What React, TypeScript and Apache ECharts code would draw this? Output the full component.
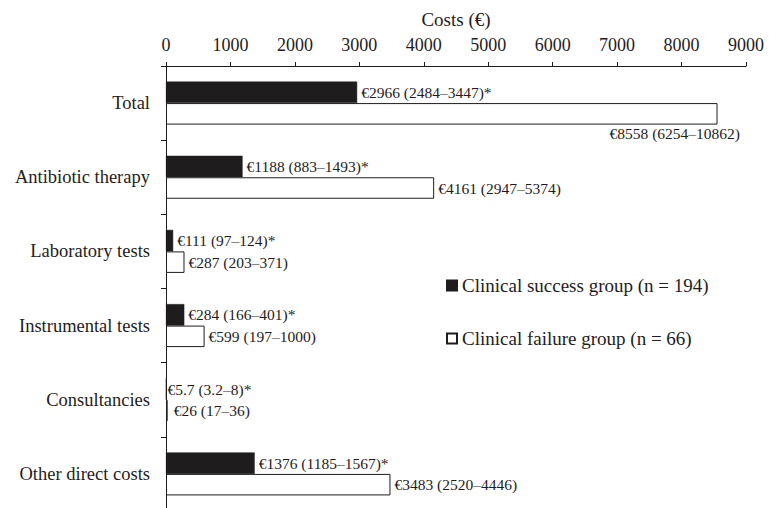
import React, { useEffect, useRef } from "react";
import * as echarts from "echarts";

const categories = [
  "Total",
  "Antibiotic therapy",
  "Laboratory tests",
  "Instrumental tests",
  "Consultancies",
  "Other direct costs",
];
const successValues = [2966, 1188, 111, 284, 5.7, 1376];
const failureValues = [8558, 4161, 287, 599, 26, 3483];
const successLabels = [
  "€2966 (2484–3447)*",
  "€1188 (883–1493)*",
  "€111 (97–124)*",
  "€284 (166–401)*",
  "€5.7 (3.2–8)*",
  "€1376 (1185–1567)*",
];
const failureLabels = [
  "€8558 (6254–10862)",
  "€4161 (2947–5374)",
  "€287 (203–371)",
  "€599 (197–1000)",
  "€26 (17–36)",
  "€3483 (2520–4446)",
];
const successName = "Clinical success group (n = 194)";
const failureName = "Clinical failure group (n = 66)";
const axisTitle = "Costs (€)";

const FONT = "Liberation Serif";
const INK = "#1f1c1d";

export default function App() {
  const ref = useRef<HTMLDivElement>(null);
  useEffect(() => {
    if (!ref.current) return;
    const chart = echarts.init(ref.current, undefined, { renderer: "svg" });
    const labelStyle = {
      show: true,
      position: "right" as const,
      distance: 4,
      color: INK,
      fontFamily: FONT,
      fontSize: 15.5,
    };
    chart.setOption({
      animation: false,
      backgroundColor: "#ffffff",
      textStyle: { fontFamily: FONT, color: INK },
      grid: {
        left: 166,
        right: 23,
        top: 66,
        height: 445,
        containLabel: false,
        outerBoundsMode: "none",
      },
      legend: {
        orient: "vertical",
        left: 446,
        top: 276,
        padding: 0,
        itemGap: 34,
        itemWidth: 10,
        itemHeight: 10,
        icon: "rect",
        textStyle: { fontFamily: FONT, fontSize: 19, color: INK },
        data: [successName, failureName],
      },
      xAxis: {
        type: "value",
        position: "top",
        min: 0,
        max: 9000,
        interval: 1000,
        name: axisTitle,
        nameLocation: "middle",
        nameGap: 37,
        nameTextStyle: { fontFamily: FONT, fontSize: 19, color: INK },
        axisLine: { show: true, lineStyle: { color: INK, width: 1 } },
        axisTick: { show: true, inside: false, length: 4, lineStyle: { color: INK } },
        splitLine: { show: false },
        axisLabel: {
          fontFamily: FONT,
          fontSize: 18,
          color: INK,
          margin: 12,
          formatter: (v: number) => String(v),
        },
      },
      yAxis: {
        type: "category",
        inverse: true,
        data: categories,
        axisLine: { show: true, lineStyle: { color: INK, width: 1 } },
        axisTick: { show: true, inside: false, length: 5, lineStyle: { color: INK } },
        axisLabel: { fontFamily: FONT, fontSize: 18.5, color: INK, margin: 16 },
      },
      series: [
        {
          name: successName,
          type: "bar",
          barWidth: 21.5,
          barGap: "0%",
          itemStyle: { color: INK, borderColor: INK, borderWidth: 0.5 },
          label: {
            ...labelStyle,
            formatter: (p: any) => successLabels[p.dataIndex],
          },
          data: successValues.map((v, i) =>
            i === 4 ? { value: v, label: { distance: 1 } } : v
          ),
        },
        {
          name: failureName,
          type: "bar",
          barWidth: 21.5,
          barGap: "0%",
          itemStyle: { color: "#ffffff", borderColor: INK, borderWidth: 1 },
          label: {
            ...labelStyle,
            formatter: (p: any) => failureLabels[p.dataIndex],
          },
          data: failureValues.map((v, i) =>
            i === 0
              ? {
                  value: v,
                  label: { position: [574, 30], align: "right", verticalAlign: "middle" },
                }
              : i === 4
              ? { value: v, label: { distance: 6 } }
              : v
          ),
        },
      ],
    });
    return () => chart.dispose();
  }, []);
  return (
    <div
      ref={ref}
      style={{ position: "absolute", left: 0, top: 0, width: 769, height: 508 }}
    />
  );
}
